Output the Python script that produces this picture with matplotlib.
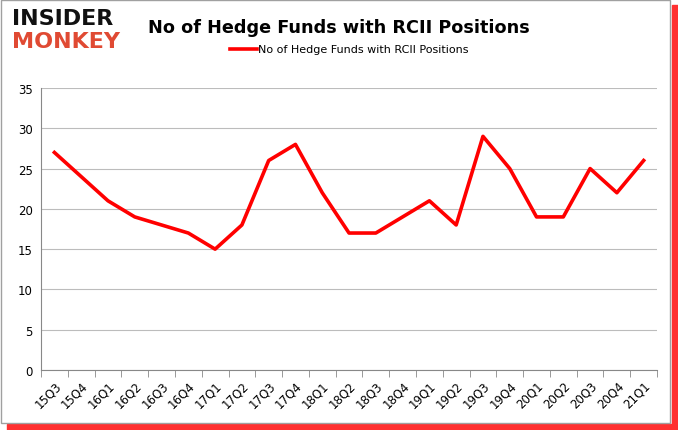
import numpy as np
import matplotlib
matplotlib.use("Agg")
import matplotlib.pyplot as plt
from matplotlib.patches import Rectangle

quarters = ["15Q3", "15Q4", "16Q1", "16Q2", "16Q3", "16Q4", "17Q1", "17Q2",
            "17Q3", "17Q4", "18Q1", "18Q2", "18Q3", "18Q4", "19Q1", "19Q2",
            "19Q3", "19Q4", "20Q1", "20Q2", "20Q3", "20Q4", "21Q1"]
funds = [27, 24, 21, 19, 18, 17, 15, 18, 26, 28, 22, 17, 17, 19, 21, 18,
         29, 25, 19, 19, 25, 22, 26]
y_ticks = [0, 5, 10, 15, 20, 25, 30, 35]

fig = plt.figure(figsize=(6.78, 4.31), dpi=100)

# frame with red shadow (bottom / right), like the source image
fig.patches.append(Rectangle((0.01, 0.0), 0.99, 0.014, transform=fig.transFigure,
                             color="#ff3030", zorder=-3))
fig.patches.append(Rectangle((0.991, 0.0), 0.009, 0.985, transform=fig.transFigure,
                             color="#ff3030", zorder=-3))
fig.patches.append(Rectangle((0.002, 0.016), 0.986, 0.982, transform=fig.transFigure,
                             facecolor="white", edgecolor="#a0a0a0", lw=1, zorder=-2))

ax = fig.add_axes([0.0605, 0.1392, 0.9086, 0.6543])
ax.patch.set_alpha(0)
x = np.arange(len(quarters))
ax.plot(x, funds, color="#ff0000", lw=2.6, label="No of Hedge Funds with RCII Positions")

ax.set_xlim(-0.5, len(quarters) - 0.5)
ax.set_ylim(0, 35)
ax.set_yticks(y_ticks)
ax.set_yticklabels([str(v) for v in y_ticks], fontsize=8.5)
ax.set_xticks(x)
ax.set_xticklabels(quarters, rotation=45, fontsize=8.5, ha="right", va="top",
                   rotation_mode="anchor")
ax.set_xticks(np.arange(-0.5, len(quarters), 1), minor=True)
ax.tick_params(axis="x", which="major", length=0, pad=6)
ax.tick_params(axis="x", which="minor", length=5, color="#888888")
ax.tick_params(axis="y", length=0, pad=6)
ax.grid(axis="y", color="#bcbcbc", lw=0.8)
ax.set_axisbelow(True)
for s in ["top", "right"]:
    ax.spines[s].set_visible(False)
ax.spines["left"].set_color("#888888")
ax.spines["bottom"].set_color("#888888")

ax.legend(loc="upper center", bbox_to_anchor=(0.5, 1.19), frameon=False, fontsize=8,
          handlelength=2.4, handletextpad=0.1)

fig.text(0.5, 0.935, "No of Hedge Funds with RCII Positions", ha="center", va="center",
         fontsize=12.7, fontweight="bold")
fig.text(0.017, 0.955, "INSIDER", ha="left", va="center", fontsize=16, fontweight="heavy",
         color="#111111", family="DejaVu Sans")
fig.text(0.017, 0.903, "MONKEY", ha="left", va="center", fontsize=16, fontweight="heavy",
         color="#e04a33", family="DejaVu Sans")

fig.savefig("out.png", dpi=100)
